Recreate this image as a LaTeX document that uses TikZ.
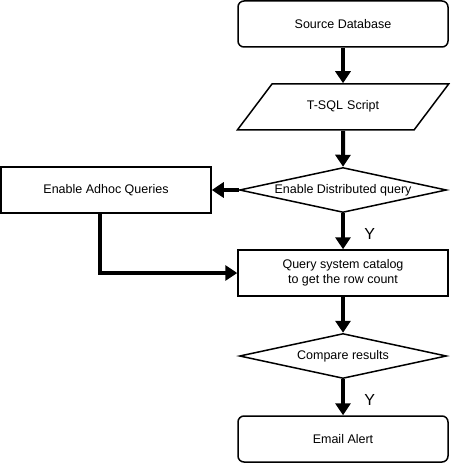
\documentclass[tikz,border=0pt]{standalone}
\usepackage{fontspec}
\setmainfont{Liberation Sans}
\usetikzlibrary{positioning, shapes.geometric, arrows.meta}

\begin{document}
\begin{tikzpicture}[
        node distance=83pt,
        every node/.style={font=\fontsize{12.5}{15}\selectfont},
        box/.style={rectangle, draw, line width=1.5pt, minimum width=210pt, minimum height=46pt, align=center},
        roundbox/.style={box, rounded corners=6pt},
        iobox/.style={trapezium, draw, line width=1.5pt, trapezium left angle=53, trapezium right angle=127, text width=134pt, align=center, text height=9pt, text depth=3pt, inner xsep=4pt, inner ysep=17pt},
        decision/.style={diamond, draw, line width=1.5pt, aspect=4.6, minimum width=207pt, minimum height=45pt, inner sep=0pt},
        arrow/.style={-{Triangle[length=12pt, width=15pt]}, line width=4pt},
        yes/.style={right, xshift=16pt, yshift=-3pt, font=\fontsize{16}{18}\selectfont}
    ]
    \useasboundingbox (0,0) rectangle (450pt,-465pt);

    \node[roundbox] (source) at (343pt,-24pt) {Source Database};
    \node[iobox, below of=source] (script) {T-SQL Script};
    \node[decision, below of=script] (distq) {Enable Distributed query};
    \node[box, node distance=237pt, left of=distq] (adhoc) {Enable Adhoc Queries};
    \node[box, below of=distq] (catalog) {Query system catalog\\to get the row count};
    \node[decision, below of=catalog] (compare) {Compare results};
    \node[roundbox, below of=compare] (alert) {Email Alert};

    \draw[arrow] (source) -- (script);
    \draw[arrow] (script) -- (distq);
    \draw[arrow] (distq) -- (adhoc);
    \draw[arrow] (distq) -- node[yes] {Y} (catalog);
    \draw[arrow] ([xshift=-6pt]adhoc.south) |- (catalog.west);
    \draw[arrow] (catalog) -- (compare);
    \draw[arrow] (compare) -- node[yes] {Y} (alert);
\end{tikzpicture}
\end{document}
